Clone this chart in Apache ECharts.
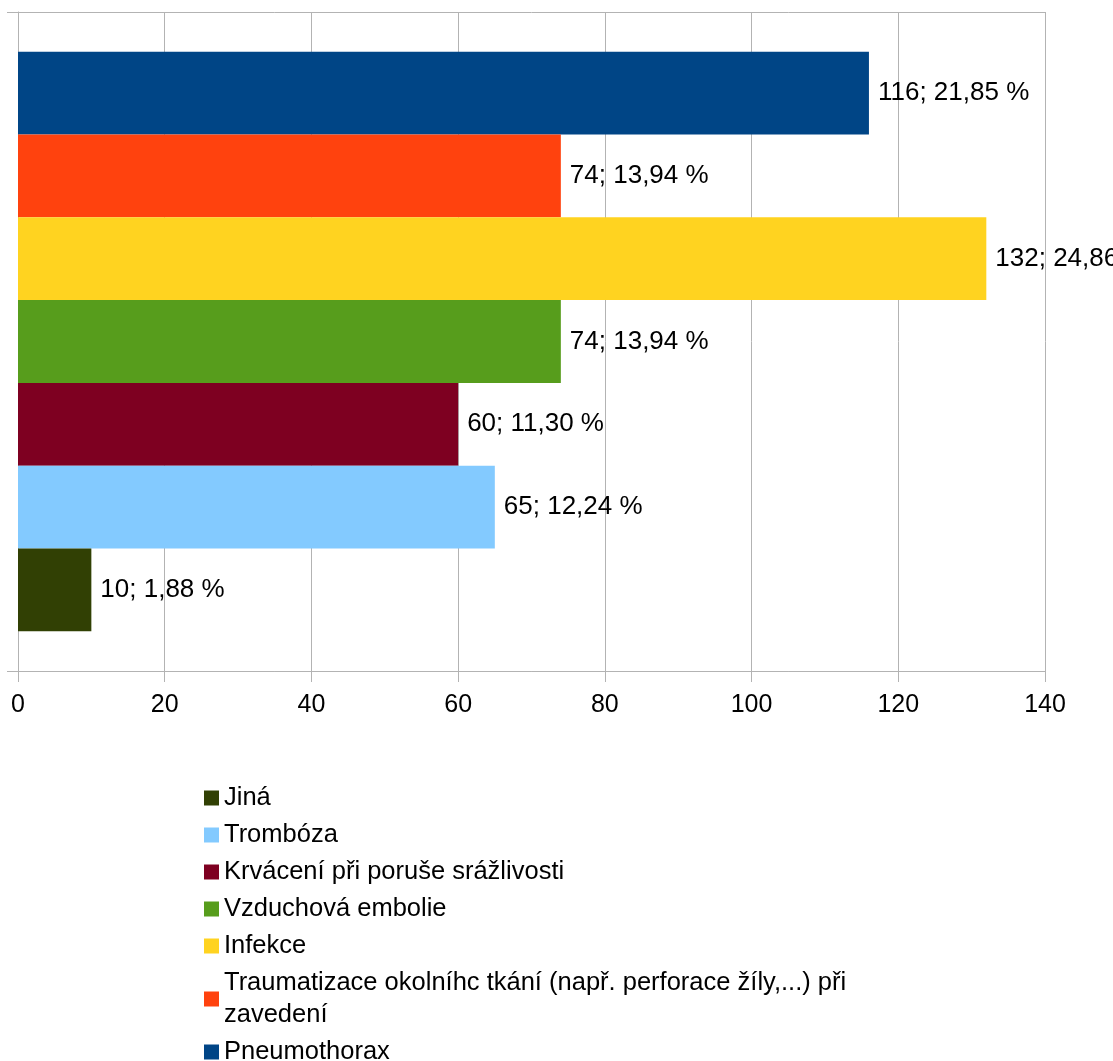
<!DOCTYPE html>
<html>
<head>
<meta charset="utf-8">
<script src="https://cdn.jsdelivr.net/npm/echarts@6/dist/echarts.min.js"></script>
<style>
html,body{margin:0;padding:0;background:#fff;}
#chart{width:1113px;height:1061px;}
</style>
</head>
<body>
<div id="chart"></div>
<script>
const seriesNames = ["Jiná", "Trombóza", "Krvácení při poruše srážlivosti", "Vzduchová embolie", "Infekce", "Traumatizace okolníhc tkání (např. perforace žíly,...) při zavedení", "Pneumothorax"];
const seriesValues = [10, 65, 60, 74, 132, 74, 116];
const seriesPercents = ["1,88", "12,24", "11,30", "13,94", "24,86", "13,94", "21,85"];
const seriesColors = ["#314004", "#83caff", "#7e0021", "#579d1c", "#ffd320", "#ff420e", "#004586"];
const categories = [""];
const xTicks = [0, 20, 40, 60, 80, 100, 120, 140];

const FONT = "Liberation Sans";
const chart = echarts.init(document.getElementById('chart'), null, {renderer: 'canvas'});
// ECharts stacks horizontal bars top-down by series index, so add them in reverse order
const order = seriesNames.map((_, i) => i).reverse();
const series = order.map(i => ({
  name: seriesNames[i],
  type: 'bar',
  data: [seriesValues[i]],
  barGap: '0%',
  barCategoryGap: '12.1%',
  itemStyle: {color: seriesColors[i]},
  label: {
    show: true,
    position: 'right',
    distance: 9,
    color: '#000',
    fontFamily: FONT,
    fontSize: 26,
    formatter: () => seriesValues[i] + '; ' + seriesPercents[i] + ' %'
  }
}));
chart.setOption({
  animation: false,
  backgroundColor: '#fff',
  grid: {left: 18, right: 68, top: 12, bottom: 390, containLabel: false},
  xAxis: {
    type: 'value',
    min: xTicks[0],
    max: xTicks[xTicks.length - 1],
    interval: 20,
    axisLine: {show: true, lineStyle: {color: '#b3b3b3', width: 1}},
    axisTick: {show: true, length: 11, lineStyle: {color: '#b3b3b3'}},
    splitLine: {show: true, lineStyle: {color: '#b3b3b3', width: 1}},
    axisLabel: {color: '#000', fontFamily: FONT, fontSize: 25, margin: 22}
  },
  yAxis: {
    type: 'category',
    data: categories,
    axisLine: {show: true, lineStyle: {color: '#b3b3b3', width: 1}},
    axisTick: {show: true, length: 11, lineStyle: {color: '#b3b3b3'}},
    splitLine: {show: true, lineStyle: {color: '#b3b3b3', width: 1}},
    axisLabel: {show: false}
  },
  legend: {
    orient: 'vertical',
    left: 199,
    top: 777,
    height: 400,
    itemWidth: 15,
    itemHeight: 15,
    itemGap: 5,
    icon: 'rect',
    data: seriesNames,
    formatter: name => name.replace(' při zavedení', ' při\nzavedení'),
    textStyle: {
      color: '#000',
      fontFamily: FONT,
      fontSize: 25.5,
      lineHeight: 32
    }
  },
  series: series
});
</script>
</body>
</html>
